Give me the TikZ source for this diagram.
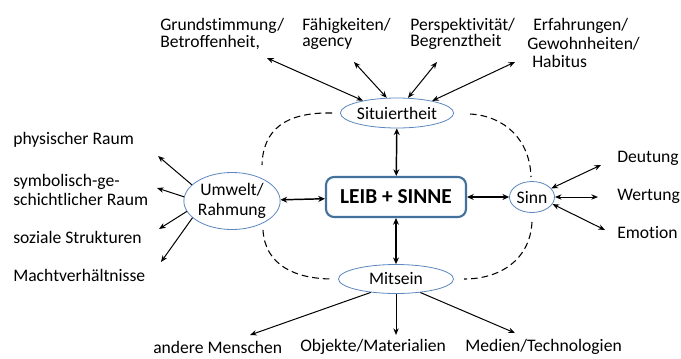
\documentclass[tikz,border=0pt]{standalone}
\usepackage{fontspec}
\setmainfont{Carlito}[Ligatures=NoCommon]
\usepackage{xcolor}
\usepackage{tikz}
\usetikzlibrary{arrows.meta, shapes.geometric, positioning}

\definecolor{ellblue}{RGB}{91,135,190}
\definecolor{boxblue}{RGB}{65,113,156}

\def\px{0.75pt}
\tikzset{
  facet/.style={ellipse, draw=ellblue, fill=white, line width=0.6pt, inner sep=0pt, align=center},
  core/.style={rectangle, rounded corners=6pt, draw=boxblue, line width=1.6pt, fill=white,
    inner sep=0pt, font=\bfseries\fontsize{16}{18}\selectfont},
  lbl/.style={anchor=west, inner sep=0pt, align=left},
  link/.style={{Stealth[length=5pt,width=4.5pt]}-{Stealth[length=5pt,width=4.5pt]}, line width=1.1pt},
  twoway/.style={{Stealth[length=5pt,width=4pt]}-{Stealth[length=5pt,width=4pt]}, line width=0.75pt},
  outarrow/.style={-{Stealth[length=5pt,width=4pt]}, line width=0.75pt},
  ring/.style={dash pattern=on 5pt off 3pt, line width=0.8pt}
}

\begin{document}
\begin{tikzpicture}[x=\px, y=-\px, font=\fontsize{13.2}{12.5}\selectfont]

\useasboundingbox (0,0) rectangle (681,358);

% Dashed ring round the centre
\draw[ring] (332,113) .. controls (285,112) and (263,130) .. (262,165);
\draw[ring] (470,114) .. controls (505,116) and (530,140) .. (531,177);
\draw[ring] (263,230) .. controls (265,265) and (295,279) .. (333,279);
\draw[ring] (532,222) .. controls (530,260) and (500,279) .. (464,279);

% Centre and the four aspects
\node[core, minimum width=140*\px, minimum height=40*\px] (leib) at (396,197) {LEIB + SINNE};
\node[facet, minimum width=113*\px, minimum height=30*\px] (sit) at (397,113) {Situiertheit};
\node[facet, minimum width=86*\px, minimum height=57*\px, font=\fontsize{13.2}{15.5}\selectfont] (umw) at (232,201) {Umwelt/\\Rahmung};
\node[facet, minimum width=45*\px, minimum height=31*\px] (sinn) at (532,197) {Sinn};
\node[facet, minimum width=115*\px, minimum height=29*\px] (mit) at (396,279) {Mitsein};

\draw[link] (sit) -- (leib);
\draw[link] (umw) -- (leib);
\draw[link] (leib) -- (sinn);
\draw[link] (leib) -- (mit);

% Situiertheit
\node[lbl] (grund) at (160,34) {Grundstimmung/\\Betroffenheit,};
\node[lbl] (faeh) at (302,34) {Fähigkeiten/\\agency};
\node[lbl] (persp) at (410,34) {Perspektivität/\\Begrenztheit};
\node[lbl, font=\fontsize{13.2}{13.9}\selectfont] (erf) at (527,43) {\hspace{4.5pt}Erfahrungen/\\Gewohnheiten/\\\hspace{3.75pt}Habitus};
\coordinate (t1) at (267,58);
\coordinate (t2) at (354,62);
\coordinate (t3) at (437,62);
\coordinate (t4) at (515,62);
\draw[twoway] (sit.160) -- (t1);
\draw[twoway] (sit.124) -- (t2);
\draw[twoway] (sit.54) -- (t3);
\draw[twoway] (sit.19) -- (t4);

% Umwelt
\node[lbl] (phys) at (13,140) {physischer Raum};
\node[lbl, font=\fontsize{13.2}{14.25}\selectfont] (symb) at (13,190) {symbolisch-ge-\\schichtlicher Raum};
\node[lbl] (soz) at (13,237) {soziale Strukturen};
\node[lbl] (macht) at (13,275) {Machtverhältnisse};
\coordinate (u1) at (158,156);
\coordinate (u2) at (157,188);
\coordinate (u3) at (159,229);
\coordinate (u4) at (161,262);
\draw[outarrow] (umw.158) -- (u1);
\draw[outarrow] (umw.175) -- (u2);
\draw[outarrow] (umw.193) -- (u3);
\draw[outarrow] (umw.203) -- (u4);

% Sinn
\node[lbl] (deut) at (617,158) {Deutung};
\node[lbl] (wert) at (617,196) {Wertung};
\node[lbl] (emo) at (617,233) {Emotion};
\coordinate (s1) at (601,165);
\coordinate (s2) at (598,197);
\coordinate (s3) at (605,230);
\draw[twoway] (sinn.24) -- (s1);
\draw[twoway] (sinn.east) -- (s2);
\draw[twoway] (sinn.341) -- (s3);

% Mitsein
\node[lbl] (mensch) at (153,347) {andere Menschen};
\node[lbl] (obj) at (300,347) {Objekte/Materialien};
\node[lbl] (med) at (465,347) {Medien/Technologien};
\coordinate (m1) at (250,335);
\coordinate (m2) at (396,335);
\coordinate (m3) at (515,333);
\draw[outarrow] (mit.208) -- (m1);
\draw[outarrow] (mit.south) -- (m2);
\draw[outarrow] (mit.331) -- (m3);

\end{tikzpicture}
\end{document}
